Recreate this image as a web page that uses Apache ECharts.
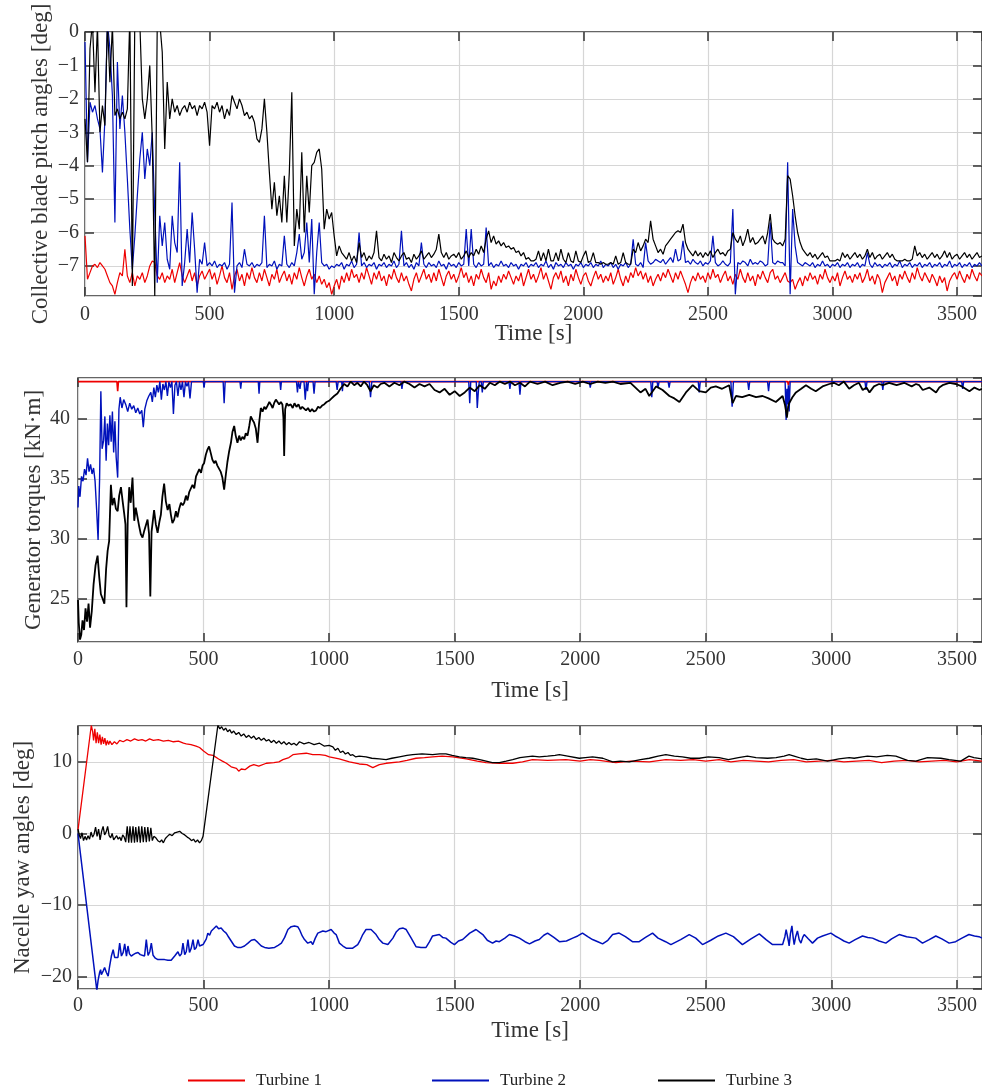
<!DOCTYPE html>
<html>
<head>
<meta charset="utf-8">
<script src="https://cdn.jsdelivr.net/npm/echarts@6/dist/echarts.min.js"></script>
<style>
html,body{margin:0;padding:0;background:#fff;}
#chart{width:982px;height:1089px;}
</style>
</head>
<body>
<div id="chart"></div>
<script>
// ---------------- DATA ----------------
const SERIES_NAMES = ['Turbine 1', 'Turbine 2', 'Turbine 3'];
const X_TICK_STEP = 500;   // s
const PITCH_DT = 10;       // s between samples of the pitch arrays

// Collective blade pitch angles [deg], one sample every PITCH_DT s (0..3600)
const pitchT1 = [
-6.1,-7.4,-7.2,-7.0,-6.95,-7.05,-6.9,-7.0,-7.1,-7.3,
-7.5,-7.6,-7.85,-7.5,-7.2,-7.3,-6.5,-7.3,-7.5,-7.2,
-7.6,-7.3,-7.4,-7.2,-7.5,-7.3,-7.0,-6.85,-6.9,-7.3,
-7.4,-7.2,-7.5,-7.3,-7.4,-7.1,-7.5,-7.2,-6.9,-7.3,
-7.5,-7.3,-7.1,-7.45,-7.2,-7.6,-7.3,-7.15,-7.4,-7.25,
-7.1,-7.4,-7.2,-7.55,-7.3,-7.0,-7.35,-7.5,-7.2,-7.7,
-7.3,-7.1,-7.45,-7.25,-7.6,-7.2,-7.4,-7.05,-7.35,-7.5,
-7.2,-7.45,-7.1,-7.35,-7.6,-7.25,-7.4,-7.1,-7.5,-7.3,
-7.15,-7.45,-7.25,-7.55,-7.2,-7.4,-7.05,-7.35,-7.6,-7.3,
-7.1,-7.4,-7.25,-7.5,-7.3,-7.55,-7.4,-7.65,-7.5,-7.85,
-7.6,-7.4,-7.7,-7.3,-7.5,-7.2,-7.45,-7.1,-7.35,-7.25,
-7.5,-7.2,-7.4,-7.05,-7.3,-7.55,-7.2,-7.4,-7.15,-7.45,
-7.3,-7.6,-7.25,-7.4,-7.1,-7.35,-7.5,-7.2,-7.45,-7.3,
-7.55,-7.75,-7.4,-7.2,-7.5,-7.3,-7.1,-7.4,-7.25,-7.5,
-7.2,-7.45,-7.1,-7.35,-7.6,-7.3,-7.15,-7.4,-7.25,-7.5,
-7.3,-7.05,-7.35,-7.2,-7.5,-7.3,-7.6,-7.25,-7.4,-7.1,
-7.35,-7.5,-7.2,-7.7,-7.45,-7.6,-7.3,-7.5,-7.25,-7.4,
-7.15,-7.35,-7.55,-7.3,-7.45,-7.2,-7.6,-7.35,-7.1,-7.4,
-7.25,-7.5,-7.3,-7.05,-7.4,-7.2,-7.45,-7.7,-7.35,-7.2,
-7.4,-7.15,-7.5,-7.3,-7.6,-7.25,-7.45,-7.1,-7.35,-7.55,
-7.3,-7.2,-7.45,-7.6,-7.35,-7.15,-7.4,-7.25,-7.5,-7.3,
-7.45,-7.2,-7.55,-7.35,-7.1,-7.4,-7.6,-7.3,-7.5,-7.2,
-7.35,-7.05,-7.3,-7.15,-7.4,-7.2,-7.5,-7.3,-7.6,-7.4,
-7.25,-7.45,-7.2,-7.35,-7.1,-7.3,-7.5,-7.2,-7.4,-7.15,
-7.35,-7.55,-7.8,-7.5,-7.3,-7.45,-7.2,-7.4,-7.3,-7.5,
-7.2,-7.4,-7.1,-7.35,-7.25,-7.5,-7.3,-7.15,-7.45,-7.3,
-7.55,-7.25,-7.4,-7.1,-7.35,-7.5,-7.2,-7.45,-7.3,-7.6,
-7.25,-7.4,-7.15,-7.35,-7.5,-7.2,-7.1,-7.4,-7.3,-7.5,
-7.35,-7.2,-7.45,-7.5,-7.4,-7.7,-7.5,-7.35,-7.6,-7.3,
-7.45,-7.2,-7.4,-7.3,-7.55,-7.25,-7.4,-7.1,-7.35,-7.5,
-7.3,-7.45,-7.2,-7.6,-7.35,-7.15,-7.4,-7.3,-7.5,-7.25,
-7.4,-7.2,-7.5,-7.35,-7.1,-7.45,-7.3,-7.55,-7.25,-7.4,
-7.8,-7.5,-7.35,-7.2,-7.45,-7.3,-7.6,-7.25,-7.4,-7.15,
-7.35,-7.5,-7.2,-7.4,-7.05,-7.3,-7.45,-7.2,-7.35,-7.5,
-7.25,-7.4,-7.6,-7.3,-7.5,-7.35,-7.75,-7.45,-7.3,-7.2,
-7.4,-7.15,-7.35,-7.5,-7.25,-7.4,-7.1,-7.3,-7.45,-7.2,
-7.3
];
const pitchT2 = [
-0.3,-3.9,-2.1,-2.4,-2.2,-2.6,-2.9,-4.2,-2.6,0.3,
-0.5,-1.9,-5.7,-0.9,-2.9,-1.9,-3.0,-4.4,-5.9,-7.1,
-6.1,-4.9,-3.8,-3.0,-4.4,-3.5,-4.0,-3.0,-5.4,-7.5,
-5.5,-6.4,-5.7,-6.8,-7.1,-5.5,-6.3,-6.6,-3.9,-7.6,
-6.9,-5.9,-6.9,-5.4,-6.5,-7.8,-6.8,-6.95,-6.3,-7.0,
-6.9,-7.0,-6.85,-7.05,-6.95,-7.0,-6.9,-7.1,-6.95,-5.1,
-7.8,-7.0,-6.9,-7.05,-6.5,-6.95,-7.0,-6.9,-7.05,-6.95,
-7.0,-6.9,-5.5,-7.05,-6.95,-7.0,-6.85,-7.1,-6.95,-7.0,
-6.1,-6.95,-7.05,-6.9,-7.0,-6.6,-6.05,-6.8,-6.6,-5.7,
-6.9,-5.6,-7.85,-6.6,-5.7,-6.9,-7.0,-6.95,-7.1,-7.0,
-7.05,-6.95,-7.0,-6.9,-7.1,-6.95,-7.0,-6.85,-7.05,-6.95,
-6.0,-7.0,-6.9,-7.05,-6.95,-7.0,-6.9,-7.1,-6.95,-7.0,
-6.9,-7.05,-6.95,-7.0,-6.85,-7.05,-6.95,-5.95,-7.0,-6.9,
-7.05,-6.95,-7.1,-6.9,-7.0,-6.3,-6.95,-7.05,-6.9,-7.0,
-6.95,-7.05,-6.85,-7.0,-6.95,-7.1,-6.9,-7.0,-6.95,-7.05,
-6.9,-7.0,-6.95,-5.9,-7.0,-5.9,-6.95,-7.05,-6.9,-7.0,
-6.95,-5.85,-7.0,-6.9,-7.05,-6.95,-7.0,-6.85,-7.0,-6.95,
-7.05,-6.9,-7.0,-6.95,-7.1,-6.95,-7.0,-6.9,-7.05,-6.95,
-7.0,-6.9,-7.05,-6.95,-7.0,-6.85,-7.05,-6.95,-7.1,-6.9,
-7.0,-6.95,-7.05,-6.9,-7.0,-6.95,-7.1,-6.95,-7.0,-6.9,
-7.05,-6.95,-7.0,-6.9,-7.05,-6.95,-7.0,-6.85,-7.05,-6.95,
-7.0,-6.9,-7.05,-6.95,-7.1,-6.95,-7.0,-6.9,-7.05,-6.95,
-6.2,-6.95,-7.0,-6.9,-7.05,-6.3,-6.85,-6.95,-6.9,-6.8,
-6.85,-6.9,-6.8,-6.95,-6.85,-6.75,-6.9,-6.5,-6.85,-6.8,
-6.25,-6.9,-6.85,-6.95,-6.8,-6.9,-6.95,-6.85,-7.0,-6.9,
-6.95,-6.85,-6.1,-6.9,-7.0,-6.95,-6.85,-6.95,-7.0,-6.9,
-5.3,-7.85,-6.9,-6.95,-6.85,-6.9,-7.0,-6.8,-6.95,-6.9,
-6.95,-6.85,-6.9,-7.0,-6.95,-5.7,-6.9,-6.95,-6.85,-6.9,
-6.9,-7.0,-3.9,-7.85,-5.3,-6.4,-6.9,-6.95,-7.0,-6.9,
-6.95,-7.0,-6.9,-7.05,-6.95,-7.0,-6.85,-7.0,-6.95,-7.05,
-6.95,-7.0,-6.9,-7.05,-6.95,-7.0,-6.9,-7.05,-6.95,-7.0,
-6.9,-7.05,-6.95,-7.0,-6.6,-6.95,-7.05,-6.9,-7.0,-6.95,
-7.05,-6.95,-7.0,-6.9,-7.05,-6.95,-7.0,-6.85,-7.05,-6.95,
-7.0,-6.9,-7.05,-6.95,-7.0,-6.9,-7.05,-6.95,-7.0,-6.9,
-7.05,-6.95,-7.0,-6.9,-7.05,-6.95,-7.0,-6.85,-7.05,-6.95,
-7.0,-6.9,-7.05,-6.95,-7.0,-6.9,-7.05,-6.95,-7.0,-6.9,
-7.0
];
const pitchT3 = [
-2.6,-3.9,-0.5,0.3,-1.8,0.2,-3.0,-2.2,-2.8,0.3,
-1.5,0.2,-2.5,-2.3,-2.6,-2.4,-2.6,-2.3,0.5,-7.6,
0.5,0.5,0.3,-2.0,-2.6,-2.0,-1.0,-3.2,-7.9,0.3,
0.3,-0.6,-3.5,-1.5,-2.6,-2.0,-2.4,-2.2,-2.5,-2.3,
-2.2,-2.4,-2.1,-2.3,-2.2,-2.5,-2.2,-2.3,-2.1,-2.4,
-3.4,-2.2,-2.3,-2.1,-2.4,-2.2,-2.6,-2.3,-2.5,-1.9,
-2.1,-2.3,-2.0,-2.2,-2.5,-2.4,-2.6,-2.5,-2.7,-3.2,
-3.3,-2.9,-2.0,-3.0,-4.2,-5.3,-4.5,-5.5,-4.9,-5.7,
-4.3,-5.7,-4.2,-1.8,-6.4,-5.3,-5.9,-3.6,-6.0,-4.3,
-5.4,-4.0,-3.9,-3.6,-3.5,-4.1,-5.9,-5.3,-5.6,-5.4,
-6.1,-6.7,-6.4,-6.6,-6.7,-6.8,-6.6,-6.85,-6.7,-6.9,
-6.3,-6.75,-6.6,-6.85,-6.7,-6.8,-6.6,-5.95,-6.75,-6.85,
-6.65,-6.8,-6.7,-6.9,-6.6,-6.75,-6.85,-6.7,-6.6,-6.8,
-6.75,-6.9,-6.65,-6.8,-6.7,-6.55,-6.8,-6.7,-6.6,-6.75,
-6.65,-6.5,-6.05,-6.6,-6.75,-6.6,-6.8,-6.7,-6.65,-6.75,
-6.6,-6.8,-6.7,-6.55,-6.75,-6.6,-6.7,-6.5,-6.65,-6.4,
-6.6,-6.2,-5.95,-6.3,-6.1,-6.35,-6.25,-6.4,-6.3,-6.45,
-6.4,-6.5,-6.45,-6.6,-6.55,-6.7,-6.6,-6.8,-6.75,-6.85,
-6.85,-6.8,-6.55,-6.85,-6.6,-6.85,-6.5,-6.85,-6.85,-6.6,
-6.85,-6.5,-6.8,-6.9,-6.6,-6.85,-6.9,-6.55,-6.85,-6.9,
-6.7,-6.55,-6.9,-6.85,-6.6,-6.9,-6.9,-6.95,-6.9,-6.95,
-6.95,-6.9,-6.95,-6.7,-6.95,-6.9,-6.6,-6.9,-6.95,-6.95,
-6.5,-6.6,-6.3,-6.55,-6.4,-6.2,-6.3,-5.65,-6.2,-6.4,
-6.6,-6.5,-6.65,-6.4,-6.3,-6.2,-6.1,-6.0,-5.95,-6.0,
-5.75,-6.3,-6.5,-6.6,-6.7,-6.55,-6.7,-6.6,-6.75,-6.6,
-6.7,-6.55,-6.75,-6.6,-6.5,-6.65,-6.6,-6.7,-6.55,-6.5,
-6.0,-6.2,-6.3,-6.1,-6.4,-6.2,-5.9,-6.3,-6.15,-6.35,
-6.3,-6.2,-6.1,-6.35,-6.0,-5.45,-6.2,-6.3,-6.35,-6.3,
-6.4,-6.2,-4.3,-4.4,-4.9,-5.5,-6.0,-6.3,-6.5,-6.6,
-6.7,-6.6,-6.75,-6.65,-6.8,-6.7,-6.6,-6.75,-6.7,-6.85,
-6.85,-6.85,-6.8,-6.85,-6.6,-6.75,-6.65,-6.8,-6.7,-6.6,
-6.75,-6.65,-6.8,-6.7,-6.5,-6.75,-6.6,-6.8,-6.7,-6.65,
-6.8,-6.7,-6.6,-6.75,-6.65,-6.8,-6.85,-6.85,-6.85,-6.8,
-6.85,-6.85,-6.8,-6.4,-6.7,-6.6,-6.75,-6.65,-6.8,-6.7,
-6.6,-6.75,-6.65,-6.8,-6.7,-6.55,-6.75,-6.6,-6.8,-6.7,
-6.65,-6.8,-6.7,-6.6,-6.75,-6.65,-6.8,-6.7,-6.6,-6.75,
-6.7
];

// Generator torques [kN·m], [time s, value]
const torqueT1 = [[0,43.1],[155,43.1],[158,42.3],[161,43.1],[2826,43.1],[2829,42.8],[2832,43.1],[3600,43.1]];
const torqueT2 = [
[0,32.6],[3,34.4],[8,33.5],[14,35.2],[20,34.8],[26,35.8],[32,35.3],[38,36.7],[44,35.6],[50,36.2],[56,35.4],[62,35.9],[68,34.8],[74,32.5],[80,29.9],[86,35.0],[91,42.3],[96,37.5],[102,38.2],[107,40.2],[112,36.5],[117,39.6],[122,37.8],[127,40.3],[132,38.1],[137,40.6],[142,37.2],[147,39.8],[152,36.8],[158,35.1],[163,40.8],[168,41.8],[175,40.9],[182,41.6],[190,41.2],[198,40.6],[206,41.3],[214,40.8],[222,41.1],[230,40.5],[238,40.9],[246,40.4],[254,40.7],[260,39.3],[266,40.8],[274,41.5],[282,41.9],[290,42.2],[296,41.4],[302,42.6],[308,41.8],[314,42.8],[320,42.2],[326,43.1],[332,41.6],[338,42.9],[344,42.4],[350,43.1],[356,41.9],[362,43.1],[368,42.6],[374,43.1],[380,40.4],[386,42.8],[392,43.1],[398,41.9],[404,43.1],[410,42.4],[416,43.1],[422,41.8],[428,43.1],[434,42.7],[440,43.1],[446,41.7],[452,43.1],
[499,43.1],[502,42.6],[505,43.1],[578,43.1],[582,41.3],[586,43.1],[645,43.1],[648,42.5],[651,43.1],[718,43.1],[721,42.1],[724,43.1],[804,43.1],[807,42.4],[810,43.1],[870,43.1],[874,42.2],[878,43.1],[884,42.5],[888,43.1],[900,43.1],[905,41.6],[910,43.1],[914,42.3],[918,43.1],[936,43.1],[940,42.1],[944,43.1],
[1028,43.1],[1032,42.4],[1036,43.1],[1050,43.1],[1053,42.3],[1056,43.1],[1160,43.1],[1165,41.8],[1170,43.1],[1286,43.1],[1290,42.5],[1294,43.1],[1556,43.1],[1560,41.3],[1564,43.1],[1586,43.1],[1590,40.9],[1594,42.2],[1598,43.1],[1606,43.1],[1610,42.2],[1614,43.1],[1716,43.1],[1720,42.5],[1724,43.1],[1756,43.1],[1760,42.0],[1764,43.1],[2036,43.1],[2040,42.6],[2044,43.1],
[2281,43.1],[2285,41.8],[2289,43.1],[2306,43.1],[2310,42.6],[2314,43.1],[2350,43.1],[2354,42.6],[2358,43.1],[2470,43.1],[2474,42.2],[2478,43.1],[2600,43.1],[2605,41.0],[2610,43.1],[2667,43.1],[2671,42.4],[2675,43.1],[2746,43.1],[2750,42.3],[2754,43.1],[2816,43.1],[2820,39.9],[2823,42.5],[2826,41.2],[2829,42.8],[2832,40.6],[2836,43.1],[3134,43.1],[3138,42.4],[3142,43.1],[3201,43.1],[3205,42.4],[3209,43.1],[3519,43.1],[3523,42.5],[3527,43.1],[3600,43.1]
];
const torqueT3 = [
[0,24.9],[3,23.0],[8,21.6],[13,22.0],[18,23.2],[24,22.4],[30,24.2],[36,23.1],[42,24.6],[48,22.6],[55,24.0],[62,26.2],[70,27.8],[78,28.6],[85,26.7],[91,25.4],[98,25.0],[105,24.6],[112,27.5],[118,29.0],[124,29.8],[131,34.5],[137,32.8],[144,33.4],[151,32.5],[158,32.3],[164,33.6],[171,34.3],[178,33.1],[184,32.1],[189,31.2],[193,24.3],[198,31.5],[204,34.3],[210,33.0],[217,35.1],[224,31.5],[230,32.6],[237,31.8],[244,31.0],[250,30.4],[257,30.1],[263,30.6],[270,30.5],[277,31.6],[283,30.4],[288,25.2],[293,30.6],[297,31.3],[303,32.4],[310,31.2],[317,30.5],[324,31.4],[330,32.0],[336,33.5],[343,34.6],[350,33.1],[357,32.4],[364,32.9],[370,32.0],[376,31.3],[383,31.6],[390,32.3],[396,31.8],[403,32.5],[410,33.0],[417,32.8],[423,33.0],[430,33.6],[436,33.2],[443,33.9],[449,33.8],[456,34.5],[463,34.2],[470,35.2],[476,35.2],[483,35.8],[490,35.5],[496,36.1],[502,36.3],[509,37.0],[515,37.4],[522,37.7],[528,37.2],[535,36.6],[542,36.3],[548,36.5],[555,36.1],[562,36.0],[568,35.6],[575,35.1],[582,34.1],[589,35.4],[595,36.4],[602,37.3],[609,38.0],[615,38.9],[622,39.4],[628,38.6],[635,38.0],[642,38.6],[648,38.2],[655,38.5],[662,38.3],[668,38.8],[675,38.6],[682,39.4],[688,40.2],[695,39.9],[701,39.7],[708,39.2],[715,38.0],[721,39.6],[728,40.9],[735,40.6],[742,41.0],[748,40.8],[755,41.1],[762,41.4],[768,41.2],[775,40.9],[781,41.3],[788,41.6],[794,41.5],[801,41.2],[808,41.4],[814,41.2],[818,40.1],[821,36.9],[825,40.8],[831,41.3],[838,41.1],[847,41.2],[855,40.9],[862,41.3],[870,41.0],[878,41.2],[886,40.8],[893,41.0],[900,40.9],[908,40.7],[916,40.9],[924,40.6],[932,40.8],[940,40.6],[948,40.7],[956,41.0],[964,40.9],[972,41.1],[980,41.2],[990,41.4],[1000,41.5],[1010,41.7],[1020,41.9],[1033,42.1],[1045,42.5],[1060,42.9],[1073,42.7],[1086,43.1],[1100,42.8],[1113,43.0],[1126,42.7],[1139,43.1],[1152,42.8],[1165,42.3],[1178,42.8],[1192,42.6],[1205,42.9],
[1220,43.0],[1240,42.7],[1260,43.0],[1280,42.8],[1300,43.1],[1320,42.9],[1340,42.6],[1360,42.9],[1380,42.7],[1400,42.9],[1420,42.4],[1440,42.2],[1460,42.5],[1480,42.0],[1500,42.3],[1520,41.9],[1540,42.2],[1560,42.6],[1580,42.3],[1600,42.8],[1620,42.5],[1640,43.0],[1660,42.8],[1680,43.1],[1700,42.9],[1720,43.1],[1740,42.8],[1760,43.0],[1780,42.7],[1800,43.1],[1830,42.9],[1860,43.1],[1890,42.8],[1920,43.0],[1950,43.1],[1980,42.9],[2010,43.1],[2040,42.9],[2070,43.1],[2100,43.0],[2130,43.1],[2160,42.9],[2200,43.0],[2220,42.6],[2240,42.2],[2260,42.5],[2275,41.9],[2302,42.7],[2328,42.4],[2355,41.9],[2375,41.7],[2395,41.4],[2421,42.2],[2448,42.8],[2474,42.3],[2500,42.2],[2520,42.6],[2540,42.7],[2565,42.5],[2593,42.8],[2607,41.3],[2620,41.9],[2645,41.8],[2673,42.0],[2700,41.8],[2726,41.9],[2750,41.7],[2779,41.4],[2806,41.9],[2815,41.2],[2819,40.7],[2823,40.1],[2828,41.0],[2832,41.3],[2845,41.8],[2859,42.2],[2880,42.5],[2899,42.8],[2920,42.5],[2938,42.3],[2965,42.7],[2992,42.9],[3010,43.0],[3030,42.8],[3050,43.1],[3071,42.5],[3090,42.8],[3110,43.0],[3125,42.4],[3140,42.6],[3152,42.2],[3170,42.7],[3190,42.9],[3205,42.8],[3230,43.0],[3260,42.8],[3290,43.0],[3320,42.7],[3337,42.9],[3350,42.8],[3364,42.4],[3390,42.6],[3417,42.2],[3430,42.6],[3443,42.8],[3470,43.0],[3496,42.9],[3520,42.7],[3550,42.3],[3570,42.6],[3590,42.4],[3600,42.5]
];

// Nacelle yaw angles [deg], [time s, value]
const yawT1 = [
[0,0.5],[53,15.1],[58,14.3],[62,13.0],[67,14.6],[72,12.6],[77,14.1],[82,12.6],[87,13.8],[92,12.4],[97,13.5],[102,12.5],[107,13.3],[112,12.3],[117,13.0],[122,12.4],[127,12.9],[135,12.4],[145,12.8],[155,12.5],[166,13.0],[180,12.8],[195,13.1],[210,12.9],[225,13.2],[240,13.0],[255,13.1],[270,12.9],[285,13.2],[300,13.0],[320,13.1],[340,12.9],[360,13.0],[380,12.8],[400,12.9],[420,12.6],[431,12.5],[450,12.4],[470,12.2],[484,12.0],[500,11.5],[520,11.0],[538,10.9],[560,10.4],[575,10.1],[591,9.8],[610,9.3],[631,9.1],[640,8.7],[650,9.0],[665,8.9],[684,9.4],[700,9.6],[720,9.4],[750,9.8],[780,9.9],[800,10.0],[816,10.3],[840,10.6],[856,11.0],[880,11.1],[909,11.2],[935,11.0],[962,11.0],[985,10.9],[1001,10.7],[1040,10.4],[1081,10.0],[1120,9.7],[1150,9.6],[1174,9.2],[1200,9.6],[1227,9.8],[1280,10.0],[1310,10.2],[1346,10.5],[1380,10.6],[1412,10.7],[1450,10.8],[1492,10.7],[1546,10.4],[1590,10.1],[1625,9.9],[1680,9.8],[1731,9.8],[1770,10.0],[1810,10.3],[1870,10.2],[1943,10.3],[2000,10.1],[2040,10.3],[2076,10.2],[2142,9.9],[2200,10.1],[2275,10.0],[2341,10.3],[2400,10.2],[2450,10.3],[2500,10.1],[2553,10.3],[2600,10.0],[2650,10.2],[2700,10.1],[2750,10.0],[2800,10.2],[2850,10.3],[2900,10.0],[2950,10.1],[3000,10.2],[3050,10.0],[3100,10.1],[3150,10.2],[3200,9.9],[3250,10.1],[3300,10.2],[3350,10.0],[3400,10.1],[3450,10.2],[3500,10.0],[3550,10.3],[3600,10.1]
];
const yawT2 = [
[0,0],[75,-21.9],[80,-20.5],[86,-19.4],[90,-19.0],[93,-19.7],[100,-19.2],[106,-18.7],[113,-19.4],[120,-19.9],[126,-18.5],[133,-17.1],[140,-16.2],[146,-17.3],[153,-17.5],[159,-17.3],[166,-15.3],[173,-17.1],[180,-16.6],[186,-15.4],[193,-17.1],[199,-15.7],[205,-16.8],[212,-17.1],[220,-16.9],[230,-16.7],[239,-16.6],[248,-16.9],[256,-17.0],[265,-17.1],[272,-14.8],[279,-17.0],[286,-16.5],[292,-15.3],[299,-17.0],[308,-17.4],[318,-17.6],[330,-17.6],[345,-17.6],[358,-17.7],[371,-17.7],[385,-17.1],[392,-17.3],[398,-16.5],[405,-17.1],[412,-16.8],[418,-15.3],[425,-16.9],[431,-16.5],[438,-14.8],[444,-16.6],[451,-16.0],[458,-14.8],[464,-16.2],[471,-15.9],[478,-14.8],[484,-15.7],[491,-15.6],[498,-15.5],[504,-15.3],[511,-14.7],[517,-13.9],[524,-14.2],[531,-13.6],[540,-13.3],[551,-12.9],[560,-13.3],[570,-13.2],[580,-13.6],[590,-13.9],[597,-14.3],[610,-15.0],[623,-15.7],[635,-15.9],[650,-15.9],[663,-15.7],[677,-15.3],[690,-14.9],[703,-14.8],[716,-15.2],[730,-15.7],[743,-15.9],[760,-16.0],[783,-15.9],[797,-15.6],[810,-15.3],[823,-14.5],[836,-13.4],[849,-13.0],[862,-12.9],[875,-13.0],[882,-13.4],[893,-14.3],[902,-14.8],[915,-15.3],[928,-15.1],[935,-15.5],[945,-14.6],[955,-13.9],[962,-14.1],[975,-13.6],[988,-13.7],[1008,-13.4],[1020,-13.9],[1028,-14.1],[1041,-15.3],[1055,-15.7],[1068,-16.0],[1094,-16.0],[1114,-15.5],[1125,-14.8],[1134,-14.1],[1147,-13.4],[1167,-13.4],[1187,-14.1],[1200,-14.8],[1214,-15.3],[1234,-15.5],[1254,-14.6],[1268,-13.7],[1280,-13.3],[1295,-13.2],[1307,-13.4],[1327,-14.6],[1346,-15.8],[1366,-15.9],[1386,-15.9],[1400,-15.1],[1412,-14.3],[1439,-14.1],[1452,-14.5],[1465,-14.6],[1485,-15.2],[1499,-15.5],[1515,-15.0],[1532,-14.8],[1560,-13.9],[1585,-13.4],[1600,-13.8],[1612,-14.1],[1630,-14.9],[1651,-15.3],[1665,-15.0],[1678,-15.1],[1700,-14.6],[1718,-14.1],[1738,-14.3],[1758,-14.6],[1780,-15.1],[1798,-15.4],[1820,-15.0],[1837,-14.8],[1855,-14.2],[1870,-13.9],[1895,-14.5],[1917,-15.1],[1945,-15.0],[1970,-14.6],[1990,-14.3],[2009,-13.9],[2030,-14.4],[2049,-14.8],[2070,-15.1],[2089,-15.4],[2110,-14.9],[2129,-14.1],[2155,-13.9],[2180,-14.4],[2208,-15.1],[2235,-15.1],[2260,-14.5],[2288,-13.9],[2310,-14.6],[2340,-15.1],[2361,-15.5],[2400,-14.8],[2434,-14.1],[2460,-14.6],[2487,-15.5],[2520,-14.9],[2550,-14.3],[2580,-13.9],[2610,-14.4],[2646,-15.5],[2680,-14.7],[2713,-14.0],[2740,-14.8],[2766,-15.5],[2806,-15.5],[2815,-14.4],[2820,-13.4],[2825,-13.2],[2829,-15.0],[2832,-15.7],[2837,-14.0],[2843,-12.9],[2848,-14.5],[2852,-15.5],[2858,-14.4],[2865,-13.6],[2872,-14.8],[2879,-15.3],[2886,-14.5],[2892,-14.1],[2908,-14.7],[2925,-15.3],[2945,-14.6],[2965,-14.3],[2998,-13.9],[3015,-14.3],[3031,-14.6],[3050,-15.0],[3071,-15.3],[3095,-14.8],[3124,-14.3],[3145,-14.5],[3164,-14.6],[3190,-15.0],[3217,-15.3],[3240,-14.7],[3270,-14.1],[3300,-14.4],[3336,-14.6],[3363,-15.3],[3390,-14.8],[3416,-14.3],[3440,-14.7],[3469,-15.3],[3495,-15.1],[3520,-14.6],[3548,-14.1],[3570,-14.3],[3588,-14.4],[3600,-14.6]
];
const yawT3 = [
[0,0.6],[5,-0.2],[10,-0.7],[16,0.1],[22,-1.0],[28,-0.4],[34,-0.9],[40,-0.3],[46,-0.8],[52,0.2],[58,-0.5],[64,-0.1],[70,0.9],[76,-0.4],[82,0.6],[88,-0.9],[94,0.3],[100,1.0],[106,-0.2],[112,0.2],[118,1.0],[124,-0.3],[130,-0.6],[136,0.0],[142,-0.9],[148,-1.1],[154,-0.3],[160,-0.8],[166,-0.5],[172,-1.0],[178,-0.2],[184,-0.5],[190,-1.2],[196,1.0],[202,-1.3],[207,1.0],[213,-1.3],[219,1.0],[225,-1.3],[230,0.9],[236,-1.2],[242,1.0],[248,-1.3],[254,1.0],[260,-1.2],[266,0.9],[272,-1.2],[278,0.9],[284,-1.1],[290,0.8],[296,-1.0],[302,-0.4],[310,-0.6],[318,-1.0],[326,-1.2],[333,-0.9],[340,-1.3],[348,-0.7],[356,-0.4],[365,-0.1],[375,-0.3],[385,0.1],[395,0.2],[405,0.3],[415,0.0],[425,-0.2],[435,-0.5],[444,-0.7],[452,-1.0],[460,-0.8],[468,-1.2],[476,-0.9],[484,-1.3],[491,-1.0],[498,-0.4],[557,15.1],[565,14.6],[572,14.9],[580,14.4],[588,14.7],[596,14.2],[604,14.5],[612,14.0],[620,14.3],[630,13.8],[640,14.1],[650,13.6],[660,13.9],[670,13.4],[680,13.7],[690,13.3],[700,13.6],[710,13.1],[720,13.4],[730,13.0],[740,13.3],[750,12.9],[760,13.1],[770,12.7],[780,13.0],[790,12.6],[800,12.9],[810,12.5],[820,12.8],[830,12.4],[840,12.7],[850,12.4],[860,12.6],[870,12.3],[882,12.8],[900,12.5],[920,12.7],[940,12.4],[962,12.6],[980,12.2],[1000,12.3],[1015,12.1],[1025,11.6],[1035,11.9],[1045,11.3],[1055,11.5],[1065,11.1],[1075,11.3],[1085,10.9],[1094,11.0],[1105,10.7],[1120,10.8],[1147,10.7],[1170,10.5],[1200,10.4],[1227,10.3],[1250,10.5],[1280,10.7],[1310,10.9],[1333,11.0],[1370,11.1],[1412,11.0],[1440,11.1],[1465,11.1],[1490,10.9],[1519,10.7],[1545,10.6],[1572,10.5],[1600,10.3],[1625,10.1],[1650,9.9],[1678,9.9],[1705,10.1],[1731,10.3],[1760,10.6],[1784,10.7],[1810,10.8],[1837,10.7],[1870,10.8],[1900,10.9],[1917,11.0],[1950,10.8],[1996,10.5],[2020,10.6],[2049,10.7],[2090,10.5],[2129,10.0],[2160,10.1],[2195,10.0],[2240,10.3],[2275,10.5],[2310,10.8],[2341,11.0],[2375,10.8],[2407,10.7],[2440,10.5],[2474,10.5],[2510,10.7],[2553,10.6],[2590,10.3],[2630,10.6],[2666,10.8],[2700,10.6],[2746,10.5],[2780,10.6],[2812,10.8],[2832,11.0],[2852,10.8],[2880,10.5],[2905,10.3],[2940,10.4],[2985,10.1],[3030,10.4],[3071,10.6],[3091,10.5],[3124,10.7],[3144,10.8],[3180,10.7],[3223,10.9],[3257,10.8],[3303,10.2],[3336,10.1],[3383,10.6],[3436,10.5],[3469,10.3],[3515,10.1],[3548,10.8],[3568,10.6],[3600,10.4]
];

// ---------------- CHART ----------------
const FONT = "'Liberation Serif', 'DejaVu Serif', serif";
const COLORS = ['#ee0000', '#0011bb', '#000000'];
const AX = '#333333';
const GRIDC = '#d6d6d6';
const minus = v => String(v).replace('-', '\u2212');
const plain = v => String(v);

const panels = [
  { grid: {left: 85, top: 32, width: 906, height: 264}, y: {min: -7.9, max: 0, split: 8, showMax: true},
    yName: 'Collective blade pitch angles [deg]', yGap: 33, yMargin: 6, xMargin: 9, xGap: 26,
    data: [pitchT1, pitchT2, pitchT3].map(a => a.map((v, i) => [i * PITCH_DT, v])), widths: [1.2, 1.2, 1.2] },
  { grid: {left: 78, top: 378, width: 905, height: 264}, y: {min: 21.4, max: 43.4, split: 5, showMax: false},
    yName: 'Generator torques [kN\u00b7m]', yGap: 33, yMargin: 8, xMargin: 8, xGap: 37,
    data: [torqueT1, torqueT2, torqueT3], widths: [1.6, 1.4, 1.8] },
  { grid: {left: 78, top: 726, width: 905, height: 263}, y: {min: -21.7, max: 15, split: 5, showMax: false},
    yName: 'Nacelle yaw angles [deg]', yGap: 44, yMargin: 6, xMargin: 7, xGap: 30,
    data: [yawT1, yawT2, yawT3], widths: [1.3, 1.5, 1.3] }
];

const grid = [], xAxis = [], yAxis = [], series = [];
panels.forEach((p, g) => {
  grid.push(Object.assign({show: true, borderColor: AX, borderWidth: 1.5, backgroundColor: 'transparent'}, p.grid));
  const tick = {show: true, inside: true, length: 9, lineStyle: {color: AX, width: 1.5}};
  const line = {show: false, onZero: false};
  xAxis.push({
    type: 'value', gridIndex: g, min: 0, max: 3600, interval: X_TICK_STEP, position: 'bottom',
    axisLine: line, axisTick: tick,
    axisLabel: {show: true, fontFamily: FONT, fontSize: 20, color: AX, margin: p.xMargin, showMaxLabel: false, formatter: plain},
    splitLine: {show: true, lineStyle: {color: GRIDC, width: 1.2}},
    name: 'Time [s]', nameLocation: 'middle', nameGap: p.xGap, nameMoveOverlap: false,
    nameTextStyle: {fontFamily: FONT, fontSize: 23, color: AX}
  });
  xAxis.push({
    type: 'value', gridIndex: g, min: 0, max: 3600, interval: X_TICK_STEP, position: 'top',
    axisLine: line, axisTick: tick, axisLabel: {show: false}, splitLine: {show: false}
  });
  yAxis.push({
    type: 'value', gridIndex: g, min: p.y.min, max: p.y.max, splitNumber: p.y.split, position: 'left',
    axisLine: line, axisTick: tick,
    axisLabel: {show: true, fontFamily: FONT, fontSize: 20, color: AX, margin: p.yMargin,
      showMinLabel: false, showMaxLabel: p.y.showMax, formatter: minus},
    splitLine: {show: true, lineStyle: {color: GRIDC, width: 1.2}},
    name: p.yName, nameLocation: 'middle', nameGap: p.yGap, nameRotate: 90, nameMoveOverlap: false,
    nameTextStyle: {fontFamily: FONT, fontSize: 23, color: AX}
  });
  yAxis.push({
    type: 'value', gridIndex: g, min: p.y.min, max: p.y.max, splitNumber: p.y.split, position: 'right',
    axisLine: line, axisTick: tick, axisLabel: {show: false}, splitLine: {show: false}
  });
  p.data.forEach((d, k) => {
    series.push({
      name: SERIES_NAMES[k], type: 'line', xAxisIndex: 2 * g, yAxisIndex: 2 * g,
      data: d, showSymbol: false, symbol: 'none', clip: true, silent: true,
      lineStyle: {color: COLORS[k], width: p.widths[k]}, itemStyle: {color: COLORS[k]},
      z: 2 + k
    });
  });
});

const legendLefts = [183, 427, 653];
const legend = SERIES_NAMES.map((n, k) => ({
  data: [n], left: legendLefts[k], top: 1067, icon: 'rect', itemWidth: 57, itemHeight: 2,
  selectedMode: false,
  textStyle: {fontFamily: FONT, fontSize: 17, color: '#222', padding: [0, 0, 0, 6]}
}));

const chart = echarts.init(document.getElementById('chart'), null, {renderer: 'canvas'});
chart.setOption({animation: false, backgroundColor: '#ffffff', grid, xAxis, yAxis, series, legend});
</script>
</body>
</html>
